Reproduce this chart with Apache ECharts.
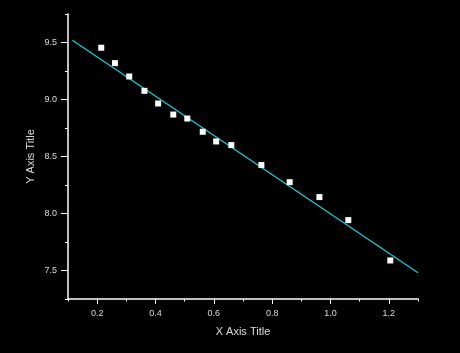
<!DOCTYPE html>
<html>
<head>
<meta charset="utf-8">
<script src="https://cdn.jsdelivr.net/npm/echarts@6/dist/echarts.min.js"></script>
<style>
  html, body { margin: 0; padding: 0; background: #000; }
  #chart { width: 460px; height: 353px; }
</style>
</head>
<body>
<div id="chart"></div>
<script>
// measured points
const xValues = [0.214, 0.261, 0.310, 0.362, 0.409, 0.461, 0.509, 0.562, 0.608, 0.660, 0.763, 0.860, 0.962, 1.061, 1.205];
const yValues = [9.454, 9.319, 9.202, 9.076, 8.965, 8.868, 8.833, 8.717, 8.632, 8.600, 8.425, 8.275, 8.144, 7.942, 7.588];
// linear fit line ends
const fitX = [0.115, 1.3];
const fitY = [9.52, 7.48];

const chart = echarts.init(document.getElementById('chart'));
const textColor = '#dddddd';
const font = 'Liberation Sans';

chart.setOption({
  backgroundColor: '#000',
  animation: false,
  grid: [
    { left: 68, right: 42, top: 14, bottom: 54 },
    // second grid only carries major ticks + labels (0.2..1.2, 7.5..9.5)
    { left: 97.2, right: 71.2, top: 42.5, bottom: 82.5 },
  ],
  xAxis: [{
    gridIndex: 0,
    type: 'value',
    min: 0.1,
    max: 1.3,
    interval: 0.1,
    splitLine: { show: false },
    axisLine: { lineStyle: { color: '#fff', width: 1.5 } },
    axisTick: { length: 2.5, lineStyle: { color: '#fff', width: 1 } },
    axisLabel: { show: false },
    name: 'X Axis Title',
    nameLocation: 'middle',
    nameGap: 27,
    nameTextStyle: { color: textColor, fontSize: 11, fontFamily: font },
  }, {
    gridIndex: 1,
    type: 'value',
    min: 0.2,
    max: 1.2,
    interval: 0.2,
    offset: 28.5,
    splitLine: { show: false },
    axisLine: { show: false },
    axisTick: { length: 5, lineStyle: { color: '#fff', width: 1 } },
    axisLabel: {
      color: textColor, fontSize: 9, fontFamily: font, margin: 10,
      formatter: (v) => v.toFixed(1),
    },
  }],
  yAxis: [{
    gridIndex: 0,
    type: 'value',
    min: 7.25,
    max: 9.75,
    interval: 0.25,
    splitLine: { show: false },
    axisLine: { lineStyle: { color: '#fff', width: 1.5 } },
    axisTick: { length: 3, lineStyle: { color: '#fff', width: 1 } },
    axisLabel: { show: false },
    name: 'Y Axis Title',
    nameLocation: 'middle',
    nameGap: 32,
    nameTextStyle: { color: textColor, fontSize: 11, fontFamily: font },
  }, {
    gridIndex: 1,
    type: 'value',
    min: 7.5,
    max: 9.5,
    interval: 0.5,
    offset: 29.2,
    splitLine: { show: false },
    axisLine: { show: false },
    axisTick: { length: 7, lineStyle: { color: '#fff', width: 1 } },
    axisLabel: {
      color: textColor, fontSize: 9, fontFamily: font, margin: 11,
      formatter: (v) => v.toFixed(1),
    },
  }],
  series: [{
    type: 'line',
    xAxisIndex: 0,
    yAxisIndex: 0,
    data: fitX.map((x, i) => [x, fitY[i]]),
    showSymbol: false,
    lineStyle: { color: '#16d2da', width: 1.2 },
    z: 2,
  }, {
    type: 'scatter',
    xAxisIndex: 0,
    yAxisIndex: 0,
    data: xValues.map((x, i) => [x, yValues[i]]),
    symbol: 'rect',
    symbolSize: 6,
    itemStyle: { color: '#fff', opacity: 1 },
    z: 3,
  }],
});
</script>
</body>
</html>
